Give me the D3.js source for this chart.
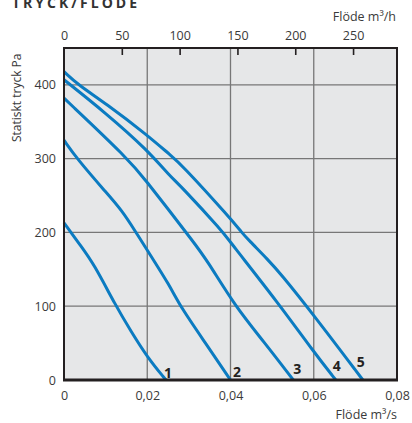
<!DOCTYPE html>
<html lang="sv">
<head>
<meta charset="UTF-8">
<title>Tryck/Flöde</title>
<script src="https://cdn.jsdelivr.net/npm/d3@7"></script>
<style>
  body { margin: 0; background: #fff; }
  svg text { font-family: "Open Sans", "Noto Sans", sans-serif; fill: #3a3a3a; }
</style>
</head>
<body>
<div id="chart"></div>
<script>
  // fläktkurvor: flöde (m3/s), statiskt tryck (Pa)
  var curve1 = [[0, 213], [0.004, 182], [0.0071, 158], [0.0125, 100], [0.016, 67], [0.02, 31], [0.0245, 0]];
  var curve2 = [[0, 325], [0.0031, 300], [0.01, 255], [0.0139, 230], [0.0173, 200], [0.02, 176], [0.0255, 127], [0.0279, 100], [0.034, 50], [0.04, 0]];
  var curve3 = [[0, 382], [0.0154, 300], [0.02, 268], [0.0255, 228], [0.0307, 190], [0.0343, 163], [0.0411, 100], [0.048, 52], [0.0551, 0]];
  var curve4 = [[0, 407], [0.01, 362], [0.02, 312], [0.0255, 276], [0.0279, 264], [0.0383, 200], [0.0395, 190], [0.0518, 102], [0.06, 38], [0.0653, 0]];
  var curve5 = [[0, 418], [0.0034, 400], [0.01, 375], [0.02, 332], [0.0255, 305], [0.0279, 294], [0.04, 219], [0.0427, 200], [0.0443, 190], [0.049, 163], [0.0519, 145], [0.06, 88], [0.0718, 0]];
  var curveNames = ["1", "2", "3", "4", "5"];

  var flowTicks = [0, 0.02, 0.04, 0.06, 0.08];      // m3/s
  var flowHourTicks = [0, 50, 100, 150, 200, 250];  // m3/h
  var pressureTicks = [0, 100, 200, 300, 400];      // Pa

  var curves = [curve1, curve2, curve3, curve4, curve5];

  var W = 412, H = 423;
  var pL = 64, pR = 397, pT = 48, pB = 380;

  var svg = d3.select("#chart").append("svg")
    .attr("width", W)
    .attr("height", H);

  var x = d3.scaleLinear().domain([0, 0.08]).range([pL, pR]);
  var xh = d3.scaleLinear().domain([0, 0.08 * 3600]).range([pL, pR]);
  var y = d3.scaleLinear().domain([0, 450]).range([pB, pT]);

  // bakgrund
  svg.append("rect")
    .attr("x", pL).attr("y", pT)
    .attr("width", pR - pL).attr("height", pB - pT)
    .attr("fill", "#e6e7e8");

  // rutnät
  svg.selectAll(".vgrid").data(flowTicks.slice(1, -1)).enter().append("line")
    .attr("x1", d => x(d)).attr("x2", d => x(d))
    .attr("y1", pT).attr("y2", pB)
    .attr("stroke", "#777").attr("stroke-width", 1.3);
  svg.selectAll(".hgrid").data(pressureTicks.slice(1)).enter().append("line")
    .attr("x1", pL).attr("x2", pR)
    .attr("y1", d => y(d)).attr("y2", d => y(d))
    .attr("stroke", "#777").attr("stroke-width", 1.3);

  // kurvor
  var line = d3.line()
    .x(d => x(d[0]))
    .y(d => y(d[1]))
    .curve(d3.curveBasis);

  svg.selectAll(".curve").data(curves).enter().append("path")
    .attr("d", line)
    .attr("fill", "none")
    .attr("stroke", "#0b7bc1")
    .attr("stroke-width", 3);

  // ram
  svg.append("rect")
    .attr("x", pL).attr("y", pT)
    .attr("width", pR - pL).attr("height", pB - pT)
    .attr("fill", "none")
    .attr("stroke", "#231f20").attr("stroke-width", 2);
  svg.append("line")
    .attr("x1", pL - 1).attr("x2", pR + 1)
    .attr("y1", pB).attr("y2", pB)
    .attr("stroke", "#231f20").attr("stroke-width", 3);

  // axlar
  var fmt = d => d === 0 ? "0" : d.toFixed(2).replace(".", ",");

  var gBottom = svg.append("g")
    .attr("transform", "translate(0," + pB + ")")
    .call(d3.axisBottom(x).tickValues(flowTicks).tickFormat(fmt).tickSize(0).tickPadding(11));

  var gTop = svg.append("g")
    .attr("transform", "translate(0," + pT + ")")
    .call(d3.axisTop(xh).tickValues(flowHourTicks).tickSize(-7).tickPadding(8));
  gTop.selectAll(".tick line").attr("stroke", "#231f20").attr("stroke-width", 1.6)
    .filter(d => d === 0).remove();

  var gLeft = svg.append("g")
    .attr("transform", "translate(" + pL + ",0)")
    .call(d3.axisLeft(y).tickValues(pressureTicks).tickSize(0).tickPadding(8));

  [gBottom, gTop, gLeft].forEach(function (g) {
    g.select(".domain").remove();
    g.selectAll("text").attr("font-size", 12.5).attr("fill", "#3a3a3a")
      .style("font-family", "'Open Sans', sans-serif");
  });

  // kurvnummer
  var labelPos = curves.map(c => c[c.length - 1]);
  var labelOffset = [[-2, -2], [2.5, -3], [0, -6], [-3, -9], [-6, -13]];
  svg.selectAll(".clabel").data(labelPos).enter().append("text")
    .attr("x", (d, i) => x(d[0]) + labelOffset[i][0])
    .attr("y", (d, i) => y(d[1]) + labelOffset[i][1])
    .attr("font-size", 14)
    .attr("font-weight", "bold")
    .style("fill", "#231f20")
    .text((d, i) => curveNames[i]);

  // titlar
  svg.append("text")
    .attr("x", 12).attr("y", 8)
    .attr("font-size", 14).attr("font-weight", "bold")
    .attr("letter-spacing", 3)
    .style("fill", "#333")
    .text("TRYCK/FLÖDE");

  svg.append("text")
    .attr("x", 396).attr("y", 21)
    .attr("text-anchor", "end")
    .attr("font-size", 12.5)
    .text("Flöde m³/h");

  svg.append("text")
    .attr("x", 397).attr("y", 419)
    .attr("text-anchor", "end")
    .attr("font-size", 12.5)
    .text("Flöde m³/s");

  svg.append("text")
    .attr("transform", "translate(21,142) rotate(-90)")
    .attr("font-size", 12)
    .text("Statiskt tryck Pa");
</script>
</body>
</html>
